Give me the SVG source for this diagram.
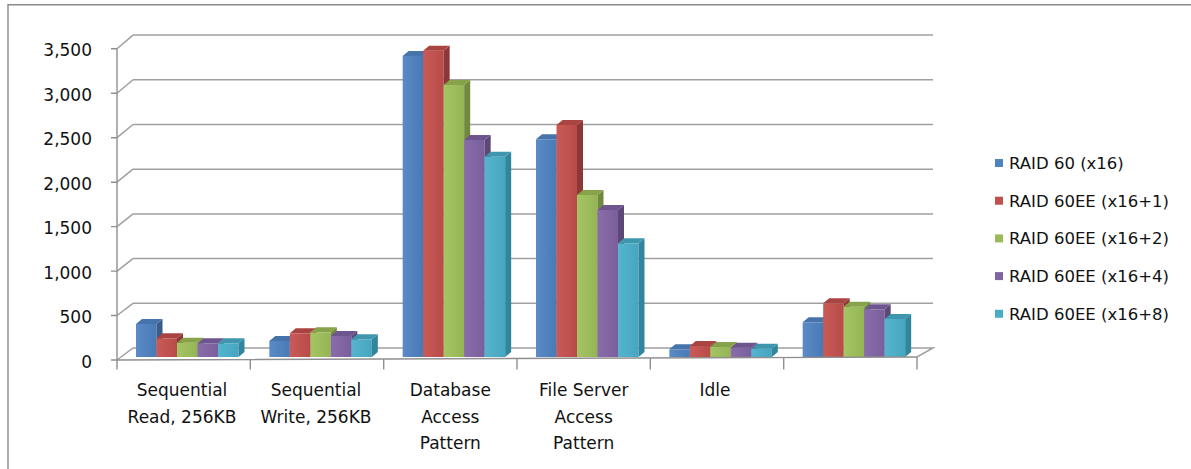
<svg xmlns="http://www.w3.org/2000/svg" width="1191" height="469" viewBox="0 0 1191 469">
<style>
.frame{stroke:#8a8a8a;stroke-width:1.4;fill:none}
.grid{stroke:#a0a0a0;stroke-width:1.5;fill:none}
.axis{stroke:#8f8f8f;stroke-width:1.4;fill:none}
.ylab{font-family:"DejaVu Sans",sans-serif;font-size:17px;fill:#111;text-anchor:end}
.xlab{font-family:"DejaVu Sans",sans-serif;font-size:17px;fill:#111;text-anchor:middle}
.leg{font-family:"DejaVu Sans",sans-serif;font-size:16.5px;fill:#111}
.s1 .f{fill:url(#gb)} .s1 .t{fill:#4573AA} .s1 .s{fill:#385D8A}
.s2 .f{fill:url(#gr)} .s2 .t{fill:#A94441} .s2 .s{fill:#8C3836}
.s3 .f{fill:url(#gg)} .s3 .t{fill:#86A34A} .s3 .s{fill:#71893F}
.s4 .f{fill:url(#gp)} .s4 .t{fill:#6E5590} .s4 .s{fill:#5C4776}
.s5 .f{fill:url(#gc)} .s5 .t{fill:#3F97AF} .s5 .s{fill:#31859C}
</style>
<defs>
<linearGradient id="gb" x1="0" y1="0" x2="1" y2="0"><stop offset="0" stop-color="#5A8BC6"/><stop offset="1" stop-color="#4A7AB5"/></linearGradient>
<linearGradient id="gr" x1="0" y1="0" x2="1" y2="0"><stop offset="0" stop-color="#C95A57"/><stop offset="1" stop-color="#B84B48"/></linearGradient>
<linearGradient id="gg" x1="0" y1="0" x2="1" y2="0"><stop offset="0" stop-color="#A5C463"/><stop offset="1" stop-color="#95B554"/></linearGradient>
<linearGradient id="gp" x1="0" y1="0" x2="1" y2="0"><stop offset="0" stop-color="#896DAB"/><stop offset="1" stop-color="#7A5F9C"/></linearGradient>
<linearGradient id="gc" x1="0" y1="0" x2="1" y2="0"><stop offset="0" stop-color="#55B5CF"/><stop offset="1" stop-color="#46A6C0"/></linearGradient>
</defs>
<rect x="0" y="0" width="1191" height="469" fill="#ffffff"/>
<g id="frame"><path class="frame" d="M8,469 V4.7 H1191"/></g>
<g id="walls">
<path class="grid" d="M133,303.3 H933 M133,258.6 H933 M133,213.9 H933 M133,169.2 H933 M133,124.5 H933 M133,79.8 H933 M133,35.1 H933"/>
<path class="grid" d="M117,315.5 L133,303.3 M117,271.1 L133,258.6 M117,226.6 L133,213.9 M117,182.2 L133,169.2 M117,137.7 L133,124.5 M117,93.3 L133,79.8 M117,48.8 L133,35.1"/>
<path class="grid" d="M117,360 L133,348 H933 L917,357"/>
</g>
<g id="bars">
<g id="cat1" transform="translate(136,0)">
<g class="s1"><rect class="f" x="0" y="324" width="20.5" height="33"/><polygon class="s" points="20.5,324 26.5,319 26.5,352 20.5,357"/><polygon class="t" points="0,324 6,319 26.5,319 20.5,324"/></g>
<g class="s2" transform="translate(20.5,0)"><rect class="f" x="0" y="338.3" width="20.5" height="18.7"/><polygon class="s" points="20.5,338.3 26.5,333.3 26.5,352 20.5,357"/><polygon class="t" points="0,338.3 6,333.3 26.5,333.3 20.5,338.3"/></g>
<g class="s3" transform="translate(41,0)"><rect class="f" x="0" y="342.7" width="20.5" height="14.3"/><polygon class="s" points="20.5,342.7 26.5,337.7 26.5,352 20.5,357"/><polygon class="t" points="0,342.7 6,337.7 26.5,337.7 20.5,342.7"/></g>
<g class="s4" transform="translate(61.5,0)"><rect class="f" x="0" y="343.3" width="20.5" height="13.7"/><polygon class="s" points="20.5,343.3 26.5,338.3 26.5,352 20.5,357"/><polygon class="t" points="0,343.3 6,338.3 26.5,338.3 20.5,343.3"/></g>
<g class="s5" transform="translate(82,0)"><rect class="f" x="0" y="343.3" width="20.5" height="13.7"/><polygon class="s" points="20.5,343.3 26.5,338.3 26.5,352 20.5,357"/><polygon class="t" points="0,343.3 6,338.3 26.5,338.3 20.5,343.3"/></g>
</g>
<g id="cat2" transform="translate(269.33,0)">
<g class="s1"><rect class="f" x="0" y="341" width="20.5" height="16"/><polygon class="s" points="20.5,341 26.5,336 26.5,352 20.5,357"/><polygon class="t" points="0,341 6,336 26.5,336 20.5,341"/></g>
<g class="s2" transform="translate(20.5,0)"><rect class="f" x="0" y="333.3" width="20.5" height="23.7"/><polygon class="s" points="20.5,333.3 26.5,328.3 26.5,352 20.5,357"/><polygon class="t" points="0,333.3 6,328.3 26.5,328.3 20.5,333.3"/></g>
<g class="s3" transform="translate(41,0)"><rect class="f" x="0" y="332.3" width="20.5" height="24.7"/><polygon class="s" points="20.5,332.3 26.5,327.3 26.5,352 20.5,357"/><polygon class="t" points="0,332.3 6,327.3 26.5,327.3 20.5,332.3"/></g>
<g class="s4" transform="translate(61.5,0)"><rect class="f" x="0" y="336" width="20.5" height="21"/><polygon class="s" points="20.5,336 26.5,331 26.5,352 20.5,357"/><polygon class="t" points="0,336 6,331 26.5,331 20.5,336"/></g>
<g class="s5" transform="translate(82,0)"><rect class="f" x="0" y="339.3" width="20.5" height="17.7"/><polygon class="s" points="20.5,339.3 26.5,334.3 26.5,352 20.5,357"/><polygon class="t" points="0,339.3 6,334.3 26.5,334.3 20.5,339.3"/></g>
</g>
<g id="cat3" transform="translate(402.67,0)">
<g class="s1"><rect class="f" x="0" y="56" width="20.5" height="301"/><polygon class="s" points="20.5,56 26.5,51 26.5,352 20.5,357"/><polygon class="t" points="0,56 6,51 26.5,51 20.5,56"/></g>
<g class="s2" transform="translate(20.5,0)"><rect class="f" x="0" y="50.7" width="20.5" height="306.3"/><polygon class="s" points="20.5,50.7 26.5,45.7 26.5,352 20.5,357"/><polygon class="t" points="0,50.7 6,45.7 26.5,45.7 20.5,50.7"/></g>
<g class="s3" transform="translate(41,0)"><rect class="f" x="0" y="85" width="20.5" height="272"/><polygon class="s" points="20.5,85 26.5,80 26.5,352 20.5,357"/><polygon class="t" points="0,85 6,80 26.5,80 20.5,85"/></g>
<g class="s4" transform="translate(61.5,0)"><rect class="f" x="0" y="140" width="20.5" height="217"/><polygon class="s" points="20.5,140 26.5,135 26.5,352 20.5,357"/><polygon class="t" points="0,140 6,135 26.5,135 20.5,140"/></g>
<g class="s5" transform="translate(82,0)"><rect class="f" x="0" y="156.7" width="20.5" height="200.3"/><polygon class="s" points="20.5,156.7 26.5,151.7 26.5,352 20.5,357"/><polygon class="t" points="0,156.7 6,151.7 26.5,151.7 20.5,156.7"/></g>
</g>
<g id="cat4" transform="translate(536,0)">
<g class="s1"><rect class="f" x="0" y="139.3" width="20.5" height="217.7"/><polygon class="s" points="20.5,139.3 26.5,134.3 26.5,352 20.5,357"/><polygon class="t" points="0,139.3 6,134.3 26.5,134.3 20.5,139.3"/></g>
<g class="s2" transform="translate(20.5,0)"><rect class="f" x="0" y="125" width="20.5" height="232"/><polygon class="s" points="20.5,125 26.5,120 26.5,352 20.5,357"/><polygon class="t" points="0,125 6,120 26.5,120 20.5,125"/></g>
<g class="s3" transform="translate(41,0)"><rect class="f" x="0" y="195" width="20.5" height="162"/><polygon class="s" points="20.5,195 26.5,190 26.5,352 20.5,357"/><polygon class="t" points="0,195 6,190 26.5,190 20.5,195"/></g>
<g class="s4" transform="translate(61.5,0)"><rect class="f" x="0" y="210" width="20.5" height="147"/><polygon class="s" points="20.5,210 26.5,205 26.5,352 20.5,357"/><polygon class="t" points="0,210 6,205 26.5,205 20.5,210"/></g>
<g class="s5" transform="translate(82,0)"><rect class="f" x="0" y="243.3" width="20.5" height="113.7"/><polygon class="s" points="20.5,243.3 26.5,238.3 26.5,352 20.5,357"/><polygon class="t" points="0,243.3 6,238.3 26.5,238.3 20.5,243.3"/></g>
</g>
<g id="cat5" transform="translate(669.33,0)">
<g class="s1"><rect class="f" x="0" y="349.3" width="20.5" height="7.7"/><polygon class="s" points="20.5,349.3 26.5,344.3 26.5,352 20.5,357"/><polygon class="t" points="0,349.3 6,344.3 26.5,344.3 20.5,349.3"/></g>
<g class="s2" transform="translate(20.5,0)"><rect class="f" x="0" y="346" width="20.5" height="11"/><polygon class="s" points="20.5,346 26.5,341 26.5,352 20.5,357"/><polygon class="t" points="0,346 6,341 26.5,341 20.5,346"/></g>
<g class="s3" transform="translate(41,0)"><rect class="f" x="0" y="347" width="20.5" height="10"/><polygon class="s" points="20.5,347 26.5,342 26.5,352 20.5,357"/><polygon class="t" points="0,347 6,342 26.5,342 20.5,347"/></g>
<g class="s4" transform="translate(61.5,0)"><rect class="f" x="0" y="347.7" width="20.5" height="9.3"/><polygon class="s" points="20.5,347.7 26.5,342.7 26.5,352 20.5,357"/><polygon class="t" points="0,347.7 6,342.7 26.5,342.7 20.5,347.7"/></g>
<g class="s5" transform="translate(82,0)"><rect class="f" x="0" y="348.7" width="20.5" height="8.3"/><polygon class="s" points="20.5,348.7 26.5,343.7 26.5,352 20.5,357"/><polygon class="t" points="0,348.7 6,343.7 26.5,343.7 20.5,348.7"/></g>
</g>
<g id="cat6" transform="translate(802.67,0)">
<g class="s1"><rect class="f" x="0" y="322.3" width="20.5" height="34.7"/><polygon class="s" points="20.5,322.3 26.5,317.3 26.5,352 20.5,357"/><polygon class="t" points="0,322.3 6,317.3 26.5,317.3 20.5,322.3"/></g>
<g class="s2" transform="translate(20.5,0)"><rect class="f" x="0" y="303.3" width="20.5" height="53.7"/><polygon class="s" points="20.5,303.3 26.5,298.3 26.5,352 20.5,357"/><polygon class="t" points="0,303.3 6,298.3 26.5,298.3 20.5,303.3"/></g>
<g class="s3" transform="translate(41,0)"><rect class="f" x="0" y="306.7" width="20.5" height="50.3"/><polygon class="s" points="20.5,306.7 26.5,301.7 26.5,352 20.5,357"/><polygon class="t" points="0,306.7 6,301.7 26.5,301.7 20.5,306.7"/></g>
<g class="s4" transform="translate(61.5,0)"><rect class="f" x="0" y="309.3" width="20.5" height="47.7"/><polygon class="s" points="20.5,309.3 26.5,304.3 26.5,352 20.5,357"/><polygon class="t" points="0,309.3 6,304.3 26.5,304.3 20.5,309.3"/></g>
<g class="s5" transform="translate(82,0)"><rect class="f" x="0" y="319" width="20.5" height="38"/><polygon class="s" points="20.5,319 26.5,314 26.5,352 20.5,357"/><polygon class="t" points="0,319 6,314 26.5,314 20.5,319"/></g>
</g>
</g>
<g id="axes">
<path class="axis" d="M117,48.8 V360 L917,357"/>
<path class="axis" d="M111,360 H117 M111,315.5 H117 M111,271.1 H117 M111,226.6 H117 M111,182.2 H117 M111,137.7 H117 M111,93.3 H117 M111,48.8 H117"/>
<path class="axis" d="M117,360 V369.5 M250.3,359.5 V369.5 M383.7,359 V369.5 M517,358.5 V369.5 M650.3,358 V369.5 M783.7,357.5 V369.5 M917,357 V369.5"/>
</g>
<g id="y-labels">
<text class="ylab" x="92" y="367.5">0</text>
<text class="ylab" x="92" y="323">500</text>
<text class="ylab" x="92" y="278.6">1,000</text>
<text class="ylab" x="92" y="234.1">1,500</text>
<text class="ylab" x="92" y="189.7">2,000</text>
<text class="ylab" x="92" y="145.2">2,500</text>
<text class="ylab" x="92" y="100.8">3,000</text>
<text class="ylab" x="92" y="56.3">3,500</text>
</g>
<g id="x-labels">
<text class="xlab" x="182" y="396">Sequential</text>
<text class="xlab" x="182" y="422.5">Read, 256KB</text>
<text class="xlab" x="316" y="396">Sequential</text>
<text class="xlab" x="316" y="422.5">Write, 256KB</text>
<text class="xlab" x="450.3" y="396">Database</text>
<text class="xlab" x="450.3" y="422.5">Access</text>
<text class="xlab" x="450.3" y="449">Pattern</text>
<text class="xlab" x="583.7" y="396">File Server</text>
<text class="xlab" x="583.7" y="422.5">Access</text>
<text class="xlab" x="583.7" y="449">Pattern</text>
<text class="xlab" x="715" y="396">Idle</text>
</g>
<g id="legend">
<g id="leg1"><rect x="995" y="159" width="8" height="8" fill="#4F81BD"/><text class="leg" x="1009" y="169">RAID 60 (x16)</text></g>
<g id="leg2"><rect x="995" y="196.7" width="8" height="8" fill="#C0504D"/><text class="leg" x="1009" y="206.7">RAID 60EE (x16+1)</text></g>
<g id="leg3"><rect x="995" y="234.4" width="8" height="8" fill="#9BBB59"/><text class="leg" x="1009" y="244.4">RAID 60EE (x16+2)</text></g>
<g id="leg4"><rect x="995" y="272.1" width="8" height="8" fill="#8064A2"/><text class="leg" x="1009" y="282.1">RAID 60EE (x16+4)</text></g>
<g id="leg5"><rect x="995" y="309.8" width="8" height="8" fill="#4BACC6"/><text class="leg" x="1009" y="319.8">RAID 60EE (x16+8)</text></g>
</g>
</svg>
